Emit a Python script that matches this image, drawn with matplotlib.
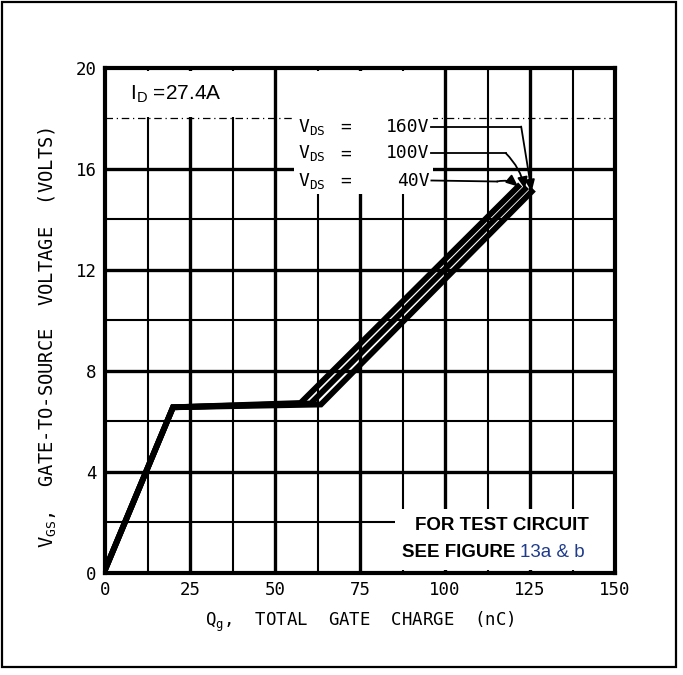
import numpy as np
import matplotlib.pyplot as plt
from matplotlib.patches import Rectangle

# gate charge curves, one per drain-source voltage
qg_40 = [0, 20, 57.5, 121.5]
vgs_40 = [0.1, 6.55, 6.72, 15.3]
qg_100 = [0, 20, 60.5, 123.5]
vgs_100 = [0.1, 6.55, 6.70, 15.2]
qg_160 = [0, 20, 63.5, 125.5]
vgs_160 = [0.1, 6.55, 6.66, 15.1]

x_ticks = [0, 25, 50, 75, 100, 125, 150]
y_ticks = [0, 4, 8, 12, 16, 20]
vds_labels = ['160V', '100V', '40V']

MONO = 'DejaVu Sans Mono'
SANS = 'Liberation Sans'
NARROW = ['Liberation Sans Narrow', 'Liberation Sans']

fig = plt.figure(figsize=(6.83, 6.75), dpi=100)
ax = fig.add_axes([105 / 683, (675 - 572.5) / 675, 510 / 683, 504.5 / 675])
ax.set_xlim(0, 150)
ax.set_ylim(0, 20)

# outer frame of the page
fig.patches.append(Rectangle((2 / 683, 8 / 675), 674 / 683, 665 / 675,
                             transform=fig.transFigure, fill=False,
                             edgecolor='k', lw=1.6))

# grid, drawn by hand so the weights can differ
for x in np.arange(12.5, 150, 12.5):
    lw = 2.4 if x % 25 == 0 else 1.5
    ax.axvline(x, color='k', lw=lw, zorder=1)
for y in np.arange(2, 20, 2):
    if y == 18:
        ax.axhline(y, color='k', lw=0.9, ls=(0, (6, 3, 1, 3)), zorder=1)
    else:
        lw = 2.4 if y % 4 == 0 else 1.5
        ax.axhline(y, color='k', lw=lw, zorder=1)

# blank areas behind the labels
for (x0, y0, w, h) in [(0.5, 18.05, 49.0, 1.85),
                       (55.6, 15.0, 40.9, 4.9),
                       (85.3, 0.08, 64.6, 2.42)]:
    ax.add_patch(Rectangle((x0, y0), w, h, facecolor='white',
                           edgecolor='none', zorder=2))

for q, v in [(qg_40, vgs_40), (qg_100, vgs_100), (qg_160, vgs_160)]:
    ax.plot(q, v, color='k', lw=4.2, solid_joinstyle='miter', zorder=4)

# labels and leaders for the three curves
rows = [17.68, 16.62, 15.54]
elbows = [(122.4, 17.68), (117.9, 16.62), (115.3, 15.50)]
tips = [(qg_160[-1], vgs_160[-1]), (qg_100[-1], vgs_100[-1]),
        (qg_40[-1], vgs_40[-1])]
rads = [0.0, -0.15, -0.25]
for lab, yr, el, tip, rad in zip(vds_labels, rows, elbows, tips, rads):
    ax.text(56.8, yr, r'V$_\mathregular{DS}$', fontsize=13, family=MONO,
            ha='left', va='center', zorder=6)
    ax.text(70.8, yr, '=', fontsize=13, family=MONO,
            ha='center', va='center', zorder=6)
    ax.text(95.5, yr, lab, fontsize=13, family=MONO,
            ha='right', va='center', zorder=6)
    ax.plot([96.0, el[0]], [yr, el[1]], color='k', lw=1.3, zorder=5)
    ax.annotate('', xy=tip, xytext=el,
                arrowprops=dict(arrowstyle='-|>,head_length=0.7,head_width=0.3',
                                lw=1.3, color='k', shrinkA=0, shrinkB=0,
                                connectionstyle=f'arc3,rad={rad}'),
                zorder=5)

ax.text(7.4, 18.95, r'I$_\mathregular{D}$ =27.4A', fontsize=15, family=SANS,
        ha='left', va='center', zorder=6)

ax.text(116.6, 1.88, 'FOR TEST CIRCUIT', fontsize=13.5, family=NARROW,
        weight='bold', ha='center', va='center', zorder=6)
ax.text(120.6, 0.79, 'SEE FIGURE', fontsize=13.5, family=NARROW,
        weight='bold', ha='right', va='center', zorder=6)
ax.text(122.2, 0.79, '13a & b', fontsize=13.5, family=SANS,
        color='#1f3c8c', ha='left', va='center', zorder=6)

for s in ax.spines.values():
    s.set_linewidth(3.0)
    s.set_zorder(7)

ax.set_xticks(x_ticks)
ax.set_yticks(y_ticks)
ax.tick_params(length=0, labelsize=12.5, pad=6)
for t in ax.get_xticklabels() + ax.get_yticklabels():
    t.set_family(MONO)

ax.set_xlabel(r'Q$_\mathregular{g}$,  TOTAL  GATE  CHARGE  (nC)',
              fontsize=12.5, family=MONO, labelpad=8)
fig.text(48 / 683, 1 - 337 / 675,
         r'V$_\mathregular{GS}$,  GATE-TO-SOURCE  VOLTAGE  (VOLTS)',
         fontsize=13.5, family=MONO, rotation=90, ha='center', va='center')

fig.savefig('out.png', dpi=100)
